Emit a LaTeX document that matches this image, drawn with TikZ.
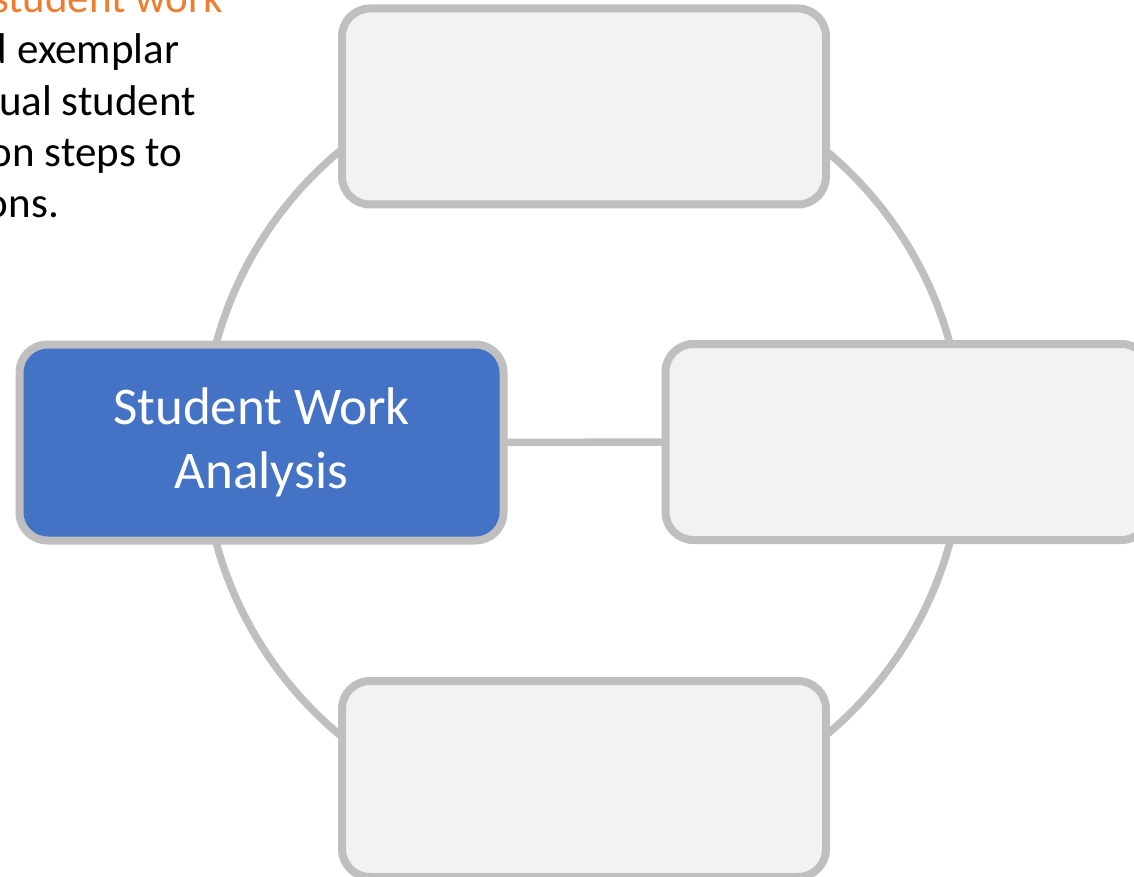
\documentclass[tikz,border=0pt]{standalone}
\usepackage{fontspec}
\setmainfont{Carlito}
\definecolor{edgegray}{HTML}{BFBFBF}
\definecolor{boxfill}{HTML}{F2F2F2}
\definecolor{mainblue}{HTML}{4472C4}
\definecolor{accentorange}{HTML}{ED7D31}
\begin{document}
\begin{tikzpicture}[x=1pt,y=-1pt,
  box/.style={rounded corners=28pt, draw=edgegray, line width=8pt, fill=boxfill,
    minimum width=484pt, minimum height=196pt, inner sep=0pt, outer sep=0pt},
  mainbox/.style={box, fill=mainblue, text=white, align=center,
    font=\fontsize{53}{64}\selectfont},
  link/.style={draw=edgegray, line width=7.5pt},
  note/.style={anchor=base west, inner sep=0pt, outer sep=0pt,
    font=\fontsize{43}{51}\selectfont}]
\useasboundingbox (0,0) rectangle (1134,877);
\clip (0,0) rectangle (1134,877);
\coordinate (c) at (583,443);
\draw[link] (c) circle (380);
\node[mainbox] (left) at (261.5,442.5) {Student Work\\Analysis};
\node[box] (right) at (907.5,442) {};
\node[box] (top) at (584,106.5) {};
\node[box] (bottom) at (584,779) {};
\draw[link] (left.east) -- (right.west);
\node[note, text=accentorange] (t0) at (-8,13) {student work};
\node[note] (t1) at (-15,64) {d exemplar};
\node[note] (t2) at (-1,116) {ual student};
\node[note] (t3) at (-10,167) {on steps to};
\node[note] (t4) at (-14,218) {ons.};
\end{tikzpicture}
\end{document}
